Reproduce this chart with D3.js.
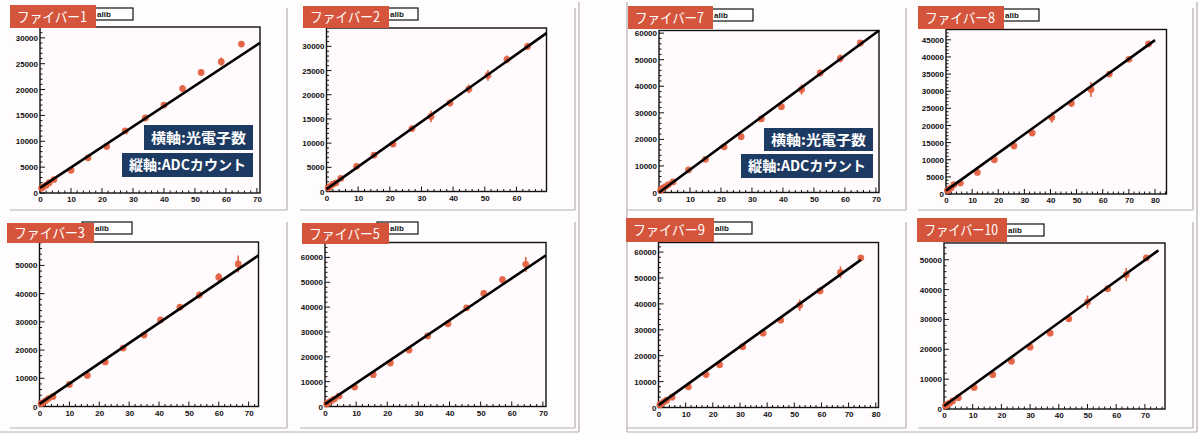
<!DOCTYPE html>
<html><head><meta charset="utf-8">
<script src="https://cdn.jsdelivr.net/npm/d3@7"></script>
<style>
html,body{margin:0;padding:0;background:#fefcfc;}
svg{display:block;}
</style></head>
<body>
<svg id="c" width="1199" height="434"></svg>
<script>
// ---------- DATA ----------
const panelNames = ["ファイバー1","ファイバー2","ファイバー3","ファイバー5","ファイバー7","ファイバー8","ファイバー9","ファイバー10"];
const legendText = "alib";   // visible part of the "Calib" legend, the rest sits under the red label
const axisNoteX = "横軸:光電子数";
const axisNoteY = "縦軸:ADCカウント";

const fiber1PE  = [0.5,1,2,3,4.5,10,15.5,21.5,27.5,34,40,46,52,58.5,65];
const fiber1ADC = [900,1200,1500,2000,2600,4400,6800,9000,12000,14500,17000,20200,23300,25400,28800];
const fiber1Err = [300,300,300,300,300,400,500,400,400,500,500,700,600,800,500];

const fiber2PE  = [0.5,1,2,3,4.5,9.5,15,21,27,33,39,45,51,57,63.5];
const fiber2ADC = [700,1000,1500,1800,2700,5200,7500,9800,13000,15500,18300,21200,24000,27300,30000];
const fiber2Err = [300,300,300,300,400,500,500,600,600,1200,700,900,1100,800,700];

const fiber3PE  = [0.5,1,2,3,4.5,10,16,22,28,35,40.5,47,53.5,60,66.5];
const fiber3ADC = [1000,1300,2000,2800,3500,7800,11000,15800,20700,25300,30700,35200,39500,45800,50500];
const fiber3Err = [400,400,400,400,500,700,700,800,900,900,900,1000,1300,1500,3000];

const fiber5PE  = [0.5,1,2,3,4.5,9.5,15.5,21,27,33,39.5,45.5,51,57,64.5];
const fiber5ADC = [1000,1500,2300,3000,4200,7800,12800,17500,22700,28400,33300,39700,45500,51000,57200];
const fiber5Err = [400,400,400,400,500,700,800,800,800,900,900,1000,1200,1500,3000];

const fiber7PE  = [0.5,1,2,3,4.5,9.5,15,21,26.5,33,39.5,46,52,58.5,65];
const fiber7ADC = [800,1500,2200,3000,4000,8500,12500,17200,21000,27700,32300,38800,45000,50500,56300];
const fiber7Err = [400,400,400,400,500,700,800,800,800,900,900,1900,1200,1500,1000];

const fiber8PE  = [0.5,1,2,3,5.5,12,18.5,26,33,40.5,48,55.5,62.5,70,77.5];
const fiber8ADC = [1000,1300,1800,2700,3200,6300,10000,14000,17800,22300,26500,30500,35000,39300,43800];
const fiber8Err = [300,300,300,300,400,600,600,600,700,1500,1100,2200,800,800,800];

const fiber9PE  = [0.5,1,2,3,5,11,17.5,22.5,31,38.5,45,52,59.5,67,74.5];
const fiber9ADC = [1000,1500,2200,2800,4000,8000,12700,16500,23500,28700,33700,39500,45000,52200,57800];
const fiber9Err = [400,400,400,400,500,800,800,800,900,1000,1000,2200,1300,2300,1000];

const fiber10PE  = [0.5,1,2,3,5,10.5,17,23.5,30,37,43.5,50,57,63.5,70.5];
const fiber10ADC = [1000,1500,2000,2700,3800,7200,11500,16000,20700,25400,30200,35800,40300,45000,50600];
const fiber10Err = [400,400,400,400,500,800,800,800,800,900,900,2200,1000,2200,800];

const xAxisMax = [71, 69.5, 73.3, 71, 71, 84.4, 81, 77];
const yAxisMax = [32100, 33800, 58300, 66000, 61000, 48000, 63700, 55600];
const yTickStep = [5000, 5000, 10000, 10000, 10000, 5000, 10000, 10000];
const xTickStep = [10, 10, 10, 10, 10, 10, 10, 10];

const fitSlope     = [395, 464, 717.5, 844, 859, 549, 753, 698];
const fitIntercept = [1000, 500, 950, 940, 0, 977, 900, 1000];
const fitXEnd      = [71, 69.5, 73.3, 71, 71, 80, 74.5, 74.7];

const peSeries  = [fiber1PE, fiber2PE, fiber3PE, fiber5PE, fiber7PE, fiber8PE, fiber9PE, fiber10PE];
const adcSeries = [fiber1ADC, fiber2ADC, fiber3ADC, fiber5ADC, fiber7ADC, fiber8ADC, fiber9ADC, fiber10ADC];
const errSeries = [fiber1Err, fiber2Err, fiber3Err, fiber5Err, fiber7Err, fiber8Err, fiber9Err, fiber10Err];

// ---------- LAYOUT (pixels) ----------
const frames = [
  {l:40,   r:260,   t:27,    b:193},
  {l:326.5,r:546.5, t:28,    b:191.5},
  {l:39.5, r:258.5, t:242,   b:406.5},
  {l:325,  r:546,   t:242.5, b:406.5},
  {l:659,  r:879,   t:30.5,  b:192.5},
  {l:946,  r:1166.5,t:29.5,  b:194},
  {l:658.5,r:878.5, t:242.5, b:407.5},
  {l:944,  r:1165,  t:243,   b:409}
];
const labels = [
  {x:10,  y:5,   w:86, h:23, wx2:133, wy:8},
  {x:303, y:6,   w:86, h:22, wx2:418, wy:8},
  {x:7,   y:223, w:87, h:20, wx2:132, wy:222},
  {x:302, y:223, w:87, h:21, wx2:418, wy:222},
  {x:628, y:6,   w:85, h:23, wx2:753, wy:9},
  {x:918, y:6,   w:86, h:23, wx2:1039,wy:9},
  {x:626, y:218, w:88, h:24, wx2:752, wy:222},
  {x:917, y:218, w:90, h:24, wx2:1044,wy:224}
];
const notes = {
  0: [{x:144,y:125,w:109,h:25},{x:122,y:153,w:131,h:24}],
  4: [{x:764,y:128,w:109,h:23},{x:741,y:154,w:132,h:24}]
};

const svg = d3.select("#c");
const gray = "#b4b0b2";
const red = "#d4553c";
const pt = "#e2603f";
const navy = "#1d3a63";

// pad / group borders
const borderLines = [
  [287,8,287,210],[10,210,287,210],
  [575,8,575,210],[300,210,575,210],
  [287,222,287,428],[10,428,287,428],
  [575,222,575,428],[300,428,575,428],
  [579,2,579,432],[0,432,579,432],
  [627,2,627,432],
  [906,8,906,210],[627,210,906,210],
  [1193,8,1193,210],[918,210,1193,210],
  [906,222,906,428],[627,428,906,428],
  [1193,222,1193,428],[918,428,1193,428],
  [1197,2,1197,432],[627,432,1197,432]
];
svg.append("g").selectAll("line").data(borderLines).join("line")
  .attr("x1",d=>d[0]).attr("y1",d=>d[1]).attr("x2",d=>d[2]).attr("y2",d=>d[3])
  .attr("stroke",gray).attr("stroke-width",1.2);

panelNames.forEach((name,i)=>{
  const f = frames[i];
  const g = svg.append("g");
  const x = d3.scaleLinear().domain([0,xAxisMax[i]]).range([f.l,f.r]);
  const y = d3.scaleLinear().domain([0,yAxisMax[i]]).range([f.b,f.t]);

  g.append("rect").attr("x",f.l).attr("y",f.t).attr("width",f.r-f.l).attr("height",f.b-f.t)
    .attr("fill","#fffbfd");

  // ticks (ROOT style, inside)
  const xMajor = d3.range(0, xAxisMax[i]+1e-9, xTickStep[i]);
  const xMinor = d3.range(0, xAxisMax[i]+1e-9, xTickStep[i]/5);
  const yMajor = d3.range(0, yAxisMax[i]+1e-9, yTickStep[i]);
  const yMinor = d3.range(0, yAxisMax[i]+1e-9, yTickStep[i]/5);

  const xAx = d3.axisBottom(x).tickValues(xMajor).tickSize(0).tickPadding(3).tickFormat(d3.format("d"));
  const yAx = d3.axisLeft(y).tickValues(yMajor).tickSize(0).tickPadding(2).tickFormat(d3.format("d"));
  const gx = g.append("g").attr("transform",`translate(0,${f.b})`).call(xAx);
  const gy = g.append("g").attr("transform",`translate(${f.l},0)`).call(yAx);
  [gx,gy].forEach(a=>{
    a.select(".domain").remove();
    a.selectAll("text").attr("font-family","Liberation Sans, Arial, sans-serif")
      .attr("font-weight","bold").attr("font-size","8px").attr("fill","#111");
  });
  gx.selectAll("text").attr("dy","0.75em");

  g.append("g").selectAll("line").data(xMinor).join("line")
    .attr("x1",d=>x(d)).attr("x2",d=>x(d)).attr("y1",f.b)
    .attr("y2",d=>f.b-(xMajor.some(m=>Math.abs(m-d)<1e-6)?5:2.5))
    .attr("stroke","#111").attr("stroke-width",1);
  g.append("g").selectAll("line").data(yMinor).join("line")
    .attr("y1",d=>y(d)).attr("y2",d=>y(d)).attr("x1",f.l)
    .attr("x2",d=>f.l+(yMajor.some(m=>Math.abs(m-d)<1e-6)?5:2.5))
    .attr("stroke","#111").attr("stroke-width",1);

  g.append("rect").attr("x",f.l).attr("y",f.t).attr("width",f.r-f.l).attr("height",f.b-f.t)
    .attr("fill","none").attr("stroke","#111").attr("stroke-width",1.4);

  // points
  const pts = peSeries[i].map((v,k)=>({pe:v, adc:adcSeries[i][k], e:errSeries[i][k]}));
  g.append("g").selectAll("line").data(pts).join("line")
    .attr("x1",d=>x(d.pe)).attr("x2",d=>x(d.pe))
    .attr("y1",d=>y(d.adc-d.e)).attr("y2",d=>y(d.adc+d.e))
    .attr("stroke",pt).attr("stroke-width",1.6);
  g.append("g").selectAll("circle").data(pts).join("circle")
    .attr("cx",d=>x(d.pe)).attr("cy",d=>y(d.adc)).attr("r",3.4)
    .attr("fill",pt).attr("opacity",0.92);

  // fit line
  const fx = [0, fitXEnd[i]];
  const line = d3.line().x(d=>x(d)).y(d=>y(fitIntercept[i]+fitSlope[i]*d));
  g.append("path").datum(fx).attr("d",line).attr("stroke","#000").attr("stroke-width",2.6).attr("fill","none");

  // legend white box (partly hidden under the red label)
  const L = labels[i];
  g.append("rect").attr("x",L.x+L.w-12).attr("y",L.wy).attr("width",L.wx2-(L.x+L.w-12)).attr("height",12)
    .attr("fill","#fff").attr("stroke","#111").attr("stroke-width",1.2);
  g.append("text").attr("x",L.x+L.w+1).attr("y",L.wy+9).text(legendText)
    .attr("font-family","Liberation Sans, Arial, sans-serif").attr("font-weight","bold").attr("font-size","8px").attr("fill","#111");
  // red title label
  g.append("rect").attr("x",L.x).attr("y",L.y).attr("width",L.w).attr("height",L.h).attr("fill",red);
  g.append("text").attr("x",L.x+7).attr("y",L.y+L.h/2+5).text(name)
    .attr("font-family","Noto Sans CJK JP, sans-serif").attr("font-size","14px").attr("fill","#fff")
    .attr("textLength", L.w-16).attr("lengthAdjust","spacingAndGlyphs");

  // axis notes
  if (notes[i]) {
    notes[i].forEach((n,k)=>{
      g.append("rect").attr("x",n.x).attr("y",n.y).attr("width",n.w).attr("height",n.h).attr("fill",navy);
      g.append("text").attr("x",n.x+n.w/2).attr("y",n.y+n.h/2+5).attr("text-anchor","middle")
        .text(k===0?axisNoteX:axisNoteY)
        .attr("font-family","Noto Sans CJK JP, sans-serif").attr("font-weight","bold").attr("font-size","14px").attr("fill","#fff")
        .attr("textLength", n.w-14).attr("lengthAdjust","spacingAndGlyphs");
    });
  }
});
</script>
</body></html>
